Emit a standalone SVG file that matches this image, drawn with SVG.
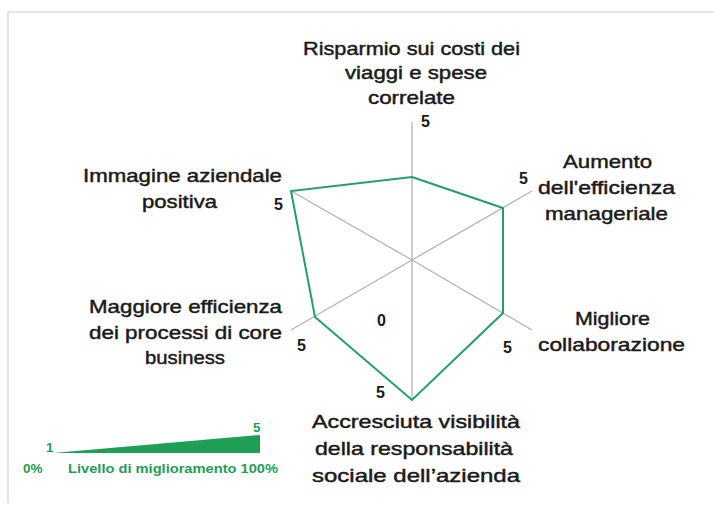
<svg xmlns="http://www.w3.org/2000/svg" width="714" height="510" viewBox="0 0 714 510">
<style>
.lbl{font-family:"Liberation Sans",Arial,sans-serif;font-size:18.5px;fill:#1a1a1a;stroke:#1a1a1a;stroke-width:0.45px;}
.val{font-family:"Liberation Sans",Arial,sans-serif;font-size:16px;font-weight:bold;fill:#1a1a1a;}
.leg{font-family:"Liberation Sans",Arial,sans-serif;font-size:13.5px;font-weight:bold;fill:#1f9e55;}
.axis{stroke:#b3b3b3;stroke-width:1.3;fill:none;}
</style>
<rect width="714" height="510" fill="#ffffff"/>
<path d="M8,503 V12 H714" fill="none" stroke="#d0d0d0" stroke-width="1.2"/>
<g id="connectors">
<line class="axis" x1="412" y1="260" x2="412" y2="122"/>
<line class="axis" x1="412" y1="260" x2="532" y2="191"/>
<line class="axis" x1="412" y1="260" x2="532" y2="330"/>
<line class="axis" x1="412" y1="260" x2="412" y2="400"/>
<line class="axis" x1="412" y1="260" x2="291" y2="330"/>
<line class="axis" x1="412" y1="260" x2="291" y2="191"/>
</g>
<g id="data">
<polygon points="412,177 503,208 503,313 412,400 315,317 291,191" fill="none" stroke="#22a067" stroke-width="2"/>
</g>
<g id="values">
<text class="val" x="421" y="127">5</text>
<text class="val" x="519" y="184">5</text>
<text class="val" x="274" y="210">5</text>
<text class="val" x="297" y="351">5</text>
<text class="val" x="377" y="326">0</text>
<text class="val" x="503" y="353">5</text>
<text class="val" x="376" y="398">5</text>
</g>
<g id="n-risparmio">
<text class="lbl" x="303" y="55" textLength="217" lengthAdjust="spacingAndGlyphs">Risparmio sui costi dei</text>
<text class="lbl" x="345" y="79" textLength="142" lengthAdjust="spacingAndGlyphs">viaggi e spese</text>
<text class="lbl" x="368" y="104" textLength="87" lengthAdjust="spacingAndGlyphs">correlate</text>
</g>
<g id="n-efficienza-manageriale">
<text class="lbl" x="563" y="168" textLength="89" lengthAdjust="spacingAndGlyphs">Aumento</text>
<text class="lbl" x="538" y="194" textLength="137" lengthAdjust="spacingAndGlyphs">dell'efficienza</text>
<text class="lbl" x="545" y="220" textLength="123" lengthAdjust="spacingAndGlyphs">manageriale</text>
</g>
<g id="n-collaborazione">
<text class="lbl" x="575" y="325" textLength="75" lengthAdjust="spacingAndGlyphs">Migliore</text>
<text class="lbl" x="538" y="351" textLength="147" lengthAdjust="spacingAndGlyphs">collaborazione</text>
</g>
<g id="n-visibilita">
<text class="lbl" x="312" y="428" textLength="208" lengthAdjust="spacingAndGlyphs">Accresciuta visibilità</text>
<text class="lbl" x="315" y="455" textLength="198" lengthAdjust="spacingAndGlyphs">della responsabilità</text>
<text class="lbl" x="312" y="482" textLength="208" lengthAdjust="spacingAndGlyphs">sociale dell’azienda</text>
</g>
<g id="n-processi">
<text class="lbl" x="89" y="313" textLength="193" lengthAdjust="spacingAndGlyphs">Maggiore efficienza</text>
<text class="lbl" x="89" y="339" textLength="193" lengthAdjust="spacingAndGlyphs">dei processi di core</text>
<text class="lbl" x="145" y="364" textLength="80" lengthAdjust="spacingAndGlyphs">business</text>
</g>
<g id="n-immagine">
<text class="lbl" x="83" y="182" textLength="199" lengthAdjust="spacingAndGlyphs">Immagine aziendale</text>
<text class="lbl" x="142" y="208" textLength="75" lengthAdjust="spacingAndGlyphs">positiva</text>
</g>
<g id="legend">
<polygon points="53,453 260,435 260,453" fill="#1f9e55"/>
<text class="leg" x="253" y="432">5</text>
<text class="leg" x="46" y="452">1</text>
<text class="leg" x="23" y="473">0%</text>
<text class="leg" x="68" y="473" textLength="210" lengthAdjust="spacingAndGlyphs">Livello di miglioramento 100%</text>
</g>
</svg>
